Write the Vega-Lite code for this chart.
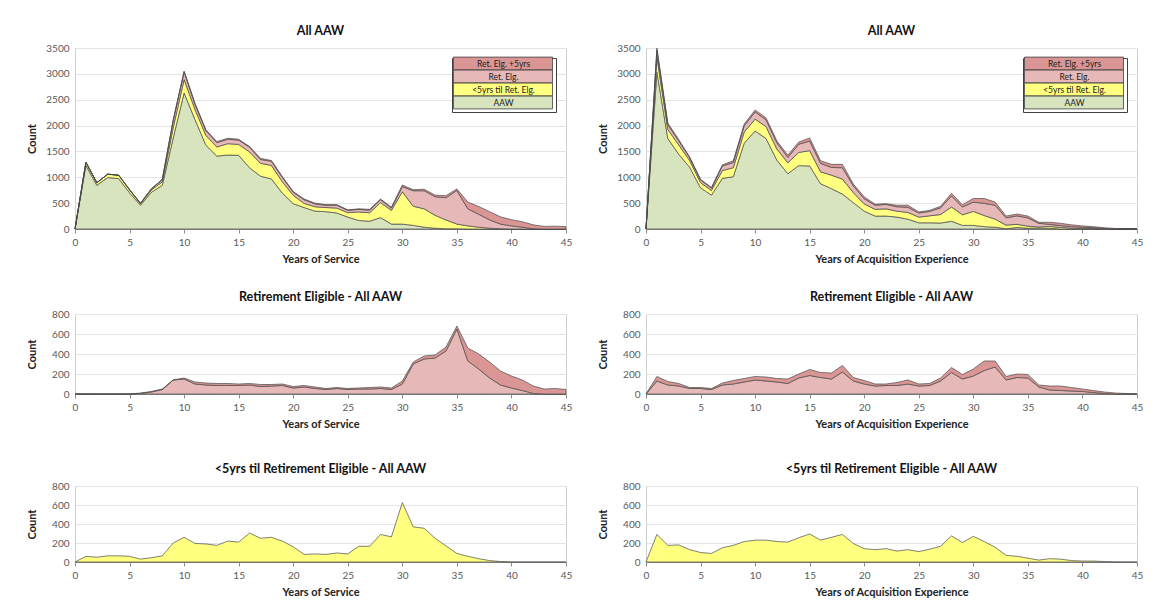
{
  "$schema": "https://vega.github.io/schema/vega-lite/v6.json",
  "background": "white",
  "padding": {"left": 25, "top": 24, "right": 8, "bottom": 2},
  "config": {
    "font": "Lato",
    "view": {"stroke": "#d0d0d0", "strokeWidth": 1},
    "title": {"fontSize": 12.5, "fontWeight": "bold", "color": "#111", "offset": 6},
    "axis": {
      "labelFontSize": 10, "labelColor": "#595959",
      "titleFontSize": 11, "titleFontWeight": "bold", "titleColor": "#222",
      "gridColor": "#e4e4e4", "domainColor": "#8c8c8c", "tickColor": "#8c8c8c"
    },
    "axisX": {"grid": false, "tickSize": 4, "labelFlush": false, "titlePadding": 6, "labelPadding": 4},
    "axisY": {"domain": false, "ticks": false, "labelPadding": 6, "minExtent": 34, "maxExtent": 34, "titlePadding": 4, "format": "d"},
    "legend": {
      "title": null, "orient": "top-right", "offset": 10,
      "symbolType": "M-1,-1.6H23.75V1.6H-1Z", "symbolSize": 64,
      "symbolStrokeColor": "#404040", "symbolStrokeWidth": 0.8, "symbolOpacity": 1,
      "labelOffset": 41.5, "labelAlign": "center", "labelFontSize": 8.5, "labelColor": "#222",
      "rowPadding": -4, "padding": 1, "strokeColor": "#404040", "fillColor": "white"
    }
  },
  "datasets": {
    "svc": [
      {"yr": 0, "aaw": 0, "lt5": 0, "ret": 0, "ret5": 0},
      {"yr": 1, "aaw": 1230, "lt5": 60, "ret": 0, "ret5": 0},
      {"yr": 2, "aaw": 845, "lt5": 50, "ret": 0, "ret5": 0},
      {"yr": 3, "aaw": 995, "lt5": 65, "ret": 0, "ret5": 0},
      {"yr": 4, "aaw": 975, "lt5": 65, "ret": 0, "ret5": 0},
      {"yr": 5, "aaw": 700, "lt5": 60, "ret": 0, "ret5": 0},
      {"yr": 6, "aaw": 460, "lt5": 30, "ret": 5, "ret5": 5},
      {"yr": 7, "aaw": 710, "lt5": 45, "ret": 20, "ret5": 5},
      {"yr": 8, "aaw": 845, "lt5": 65, "ret": 45, "ret5": 5},
      {"yr": 9, "aaw": 1760, "lt5": 200, "ret": 140, "ret5": 0},
      {"yr": 10, "aaw": 2630, "lt5": 260, "ret": 150, "ret5": 10},
      {"yr": 11, "aaw": 2115, "lt5": 195, "ret": 100, "ret5": 20},
      {"yr": 12, "aaw": 1620, "lt5": 190, "ret": 90, "ret5": 20},
      {"yr": 13, "aaw": 1410, "lt5": 175, "ret": 85, "ret5": 20},
      {"yr": 14, "aaw": 1430, "lt5": 220, "ret": 85, "ret5": 20},
      {"yr": 15, "aaw": 1425, "lt5": 210, "ret": 85, "ret5": 15},
      {"yr": 16, "aaw": 1185, "lt5": 305, "ret": 90, "ret5": 15},
      {"yr": 17, "aaw": 1020, "lt5": 250, "ret": 75, "ret5": 20},
      {"yr": 18, "aaw": 970, "lt5": 260, "ret": 80, "ret5": 15},
      {"yr": 19, "aaw": 695, "lt5": 220, "ret": 85, "ret5": 15},
      {"yr": 20, "aaw": 490, "lt5": 160, "ret": 60, "ret5": 15},
      {"yr": 21, "aaw": 415, "lt5": 80, "ret": 70, "ret5": 15},
      {"yr": 22, "aaw": 345, "lt5": 85, "ret": 55, "ret5": 15},
      {"yr": 23, "aaw": 335, "lt5": 80, "ret": 45, "ret5": 10},
      {"yr": 24, "aaw": 310, "lt5": 95, "ret": 55, "ret5": 10},
      {"yr": 25, "aaw": 230, "lt5": 85, "ret": 45, "ret5": 10},
      {"yr": 26, "aaw": 165, "lt5": 165, "ret": 50, "ret5": 10},
      {"yr": 27, "aaw": 150, "lt5": 165, "ret": 50, "ret5": 15},
      {"yr": 28, "aaw": 220, "lt5": 290, "ret": 55, "ret5": 15},
      {"yr": 29, "aaw": 95, "lt5": 265, "ret": 45, "ret5": 15},
      {"yr": 30, "aaw": 95, "lt5": 625, "ret": 100, "ret5": 30},
      {"yr": 31, "aaw": 70, "lt5": 370, "ret": 300, "ret5": 20},
      {"yr": 32, "aaw": 35, "lt5": 355, "ret": 350, "ret5": 30},
      {"yr": 33, "aaw": 15, "lt5": 250, "ret": 360, "ret5": 30},
      {"yr": 34, "aaw": 5, "lt5": 170, "ret": 430, "ret5": 40},
      {"yr": 35, "aaw": 5, "lt5": 90, "ret": 650, "ret5": 30},
      {"yr": 36, "aaw": 0, "lt5": 60, "ret": 330, "ret5": 130},
      {"yr": 37, "aaw": 0, "lt5": 35, "ret": 250, "ret5": 150},
      {"yr": 38, "aaw": 0, "lt5": 15, "ret": 160, "ret5": 160},
      {"yr": 39, "aaw": 0, "lt5": 5, "ret": 90, "ret5": 140},
      {"yr": 40, "aaw": 0, "lt5": 0, "ret": 60, "ret5": 120},
      {"yr": 41, "aaw": 0, "lt5": 0, "ret": 35, "ret5": 105},
      {"yr": 42, "aaw": 0, "lt5": 0, "ret": 5, "ret5": 75},
      {"yr": 43, "aaw": 0, "lt5": 0, "ret": 0, "ret5": 50},
      {"yr": 44, "aaw": 0, "lt5": 0, "ret": 0, "ret5": 55},
      {"yr": 45, "aaw": 0, "lt5": 0, "ret": 0, "ret5": 45}
    ],
    "acq": [
      {"yr": 0, "aaw": 0, "lt5": 0, "ret": 0, "ret5": 0},
      {"yr": 1, "aaw": 3035, "lt5": 290, "ret": 130, "ret5": 45},
      {"yr": 2, "aaw": 1750, "lt5": 175, "ret": 90, "ret5": 35},
      {"yr": 3, "aaw": 1445, "lt5": 180, "ret": 80, "ret5": 25},
      {"yr": 4, "aaw": 1195, "lt5": 130, "ret": 55, "ret5": 10},
      {"yr": 5, "aaw": 795, "lt5": 100, "ret": 55, "ret5": 10},
      {"yr": 6, "aaw": 655, "lt5": 90, "ret": 45, "ret5": 10},
      {"yr": 7, "aaw": 980, "lt5": 150, "ret": 90, "ret5": 20},
      {"yr": 8, "aaw": 1010, "lt5": 175, "ret": 100, "ret5": 35},
      {"yr": 9, "aaw": 1660, "lt5": 215, "ret": 120, "ret5": 35},
      {"yr": 10, "aaw": 1895, "lt5": 230, "ret": 140, "ret5": 35},
      {"yr": 11, "aaw": 1750, "lt5": 230, "ret": 130, "ret5": 40},
      {"yr": 12, "aaw": 1330, "lt5": 215, "ret": 120, "ret5": 35},
      {"yr": 13, "aaw": 1070, "lt5": 210, "ret": 105, "ret5": 45},
      {"yr": 14, "aaw": 1225, "lt5": 255, "ret": 160, "ret5": 40},
      {"yr": 15, "aaw": 1220, "lt5": 295, "ret": 185, "ret5": 60},
      {"yr": 16, "aaw": 875, "lt5": 230, "ret": 165, "ret5": 50},
      {"yr": 17, "aaw": 780, "lt5": 260, "ret": 150, "ret5": 60},
      {"yr": 18, "aaw": 675, "lt5": 290, "ret": 220, "ret5": 65},
      {"yr": 19, "aaw": 510, "lt5": 195, "ret": 130, "ret5": 35},
      {"yr": 20, "aaw": 345, "lt5": 140, "ret": 100, "ret5": 35},
      {"yr": 21, "aaw": 250, "lt5": 130, "ret": 80, "ret5": 20},
      {"yr": 22, "aaw": 250, "lt5": 140, "ret": 85, "ret5": 15},
      {"yr": 23, "aaw": 230, "lt5": 115, "ret": 85, "ret5": 30},
      {"yr": 24, "aaw": 190, "lt5": 130, "ret": 100, "ret5": 40},
      {"yr": 25, "aaw": 120, "lt5": 110, "ret": 80, "ret5": 20},
      {"yr": 26, "aaw": 120, "lt5": 135, "ret": 85, "ret5": 20},
      {"yr": 27, "aaw": 115, "lt5": 165, "ret": 130, "ret5": 30},
      {"yr": 28, "aaw": 150, "lt5": 275, "ret": 215, "ret5": 50},
      {"yr": 29, "aaw": 70, "lt5": 205, "ret": 150, "ret5": 45},
      {"yr": 30, "aaw": 70, "lt5": 270, "ret": 180, "ret5": 70},
      {"yr": 31, "aaw": 45, "lt5": 215, "ret": 235, "ret5": 95},
      {"yr": 32, "aaw": 35, "lt5": 155, "ret": 270, "ret5": 60},
      {"yr": 33, "aaw": 5, "lt5": 70, "ret": 140, "ret5": 35},
      {"yr": 34, "aaw": 30, "lt5": 60, "ret": 165, "ret5": 35},
      {"yr": 35, "aaw": 15, "lt5": 40, "ret": 160, "ret5": 35},
      {"yr": 36, "aaw": 20, "lt5": 20, "ret": 70, "ret5": 20},
      {"yr": 37, "aaw": 15, "lt5": 35, "ret": 40, "ret5": 40},
      {"yr": 38, "aaw": 0, "lt5": 30, "ret": 35, "ret5": 45},
      {"yr": 39, "aaw": 0, "lt5": 15, "ret": 30, "ret5": 35},
      {"yr": 40, "aaw": 0, "lt5": 10, "ret": 25, "ret5": 25},
      {"yr": 41, "aaw": 0, "lt5": 10, "ret": 15, "ret5": 20},
      {"yr": 42, "aaw": 0, "lt5": 5, "ret": 5, "ret5": 15},
      {"yr": 43, "aaw": 0, "lt5": 0, "ret": 0, "ret5": 10},
      {"yr": 44, "aaw": 0, "lt5": 0, "ret": 0, "ret5": 5},
      {"yr": 45, "aaw": 0, "lt5": 0, "ret": 0, "ret5": 0}
    ]
  },
  "resolve": {"scale": {"color": "independent"}, "legend": {"color": "independent"}},
  "spacing": 25,
  "vconcat": [
    {
      "spacing": 23,
      "resolve": {"scale": {"color": "independent"}, "legend": {"color": "independent"}},
      "hconcat": [
        {
          "title": "All AAW",
          "width": 491, "height": 181,
          "data": {"name": "svc"},
          "transform": [
            {"fold": ["aaw", "lt5", "ret", "ret5"], "as": ["grp", "n"]},
            {"calculate": "indexof(['aaw','lt5','ret','ret5'], datum.grp)", "as": "ord"}
          ],
          "mark": {"type": "area", "stroke": "#4a4a4a", "strokeWidth": 0.7},
          "encoding": {
            "x": {"field": "yr", "type": "quantitative", "scale": {"domain": [0, 45], "nice": false},
                  "axis": {"values": [0, 5, 10, 15, 20, 25, 30, 35, 40, 45], "title": "Years of Service"}},
            "y": {"field": "n", "type": "quantitative", "stack": "zero", "scale": {"domain": [0, 3500], "nice": false},
                  "axis": {"values": [0, 500, 1000, 1500, 2000, 2500, 3000, 3500], "title": "Count"}},
            "color": {"field": "grp", "type": "nominal",
                      "scale": {"domain": ["ret5", "ret", "lt5", "aaw"], "range": ["#D99694", "#E6B9B8", "#FFFF80", "#D7E4BD"]},
                      "legend": {"rowPadding": -4, "labelExpr": "{'aaw':'AAW','lt5':'<5yrs til Ret. Elg.','ret':'Ret. Elg.','ret5':'Ret. Elg. +5yrs'}[datum.label]"}},
            "order": {"field": "ord", "type": "quantitative"}
          }
        },
        {
          "title": "All AAW",
          "width": 491, "height": 181,
          "data": {"name": "acq"},
          "transform": [
            {"fold": ["aaw", "lt5", "ret", "ret5"], "as": ["grp", "n"]},
            {"calculate": "indexof(['aaw','lt5','ret','ret5'], datum.grp)", "as": "ord"}
          ],
          "mark": {"type": "area", "stroke": "#4a4a4a", "strokeWidth": 0.7},
          "encoding": {
            "x": {"field": "yr", "type": "quantitative", "scale": {"domain": [0, 45], "nice": false},
                  "axis": {"values": [0, 5, 10, 15, 20, 25, 30, 35, 40, 45], "title": "Years of Acquisition Experience"}},
            "y": {"field": "n", "type": "quantitative", "stack": "zero", "scale": {"domain": [0, 3500], "nice": false},
                  "axis": {"values": [0, 500, 1000, 1500, 2000, 2500, 3000, 3500], "title": "Count"}},
            "color": {"field": "grp", "type": "nominal",
                      "scale": {"domain": ["ret5", "ret", "lt5", "aaw"], "range": ["#D99694", "#E6B9B8", "#FFFF80", "#D7E4BD"]},
                      "legend": {"rowPadding": -4, "labelExpr": "{'aaw':'AAW','lt5':'<5yrs til Ret. Elg.','ret':'Ret. Elg.','ret5':'Ret. Elg. +5yrs'}[datum.label]"}},
            "order": {"field": "ord", "type": "quantitative"}
          }
        }
      ]
    },
    {
      "spacing": 32,
      "vconcat": [
        {
          "spacing": 23,
          "resolve": {"scale": {"color": "independent"}, "legend": {"color": "independent"}},
          "hconcat": [
            {
              "title": "Retirement Eligible - All AAW",
              "width": 491, "height": 80,
              "data": {"name": "svc"},
              "transform": [
                {"fold": ["ret", "ret5"], "as": ["grp", "n"]},
                {"calculate": "indexof(['ret','ret5'], datum.grp)", "as": "ord"}
              ],
              "mark": {"type": "area", "stroke": "#4a4a4a", "strokeWidth": 0.7},
              "encoding": {
                "x": {"field": "yr", "type": "quantitative", "scale": {"domain": [0, 45], "nice": false},
                      "axis": {"values": [0, 5, 10, 15, 20, 25, 30, 35, 40, 45], "title": "Years of Service"}},
                "y": {"field": "n", "type": "quantitative", "stack": "zero", "scale": {"domain": [0, 800], "nice": false},
                      "axis": {"values": [0, 200, 400, 600, 800], "title": "Count"}},
                "color": {"field": "grp", "type": "nominal",
                          "scale": {"domain": ["ret5", "ret"], "range": ["#D99694", "#E6B9B8"]}, "legend": null},
                "order": {"field": "ord", "type": "quantitative"}
              }
            },
            {
              "title": "Retirement Eligible - All AAW",
              "width": 491, "height": 80,
              "data": {"name": "acq"},
              "transform": [
                {"fold": ["ret", "ret5"], "as": ["grp", "n"]},
                {"calculate": "indexof(['ret','ret5'], datum.grp)", "as": "ord"}
              ],
              "mark": {"type": "area", "stroke": "#4a4a4a", "strokeWidth": 0.7},
              "encoding": {
                "x": {"field": "yr", "type": "quantitative", "scale": {"domain": [0, 45], "nice": false},
                      "axis": {"values": [0, 5, 10, 15, 20, 25, 30, 35, 40, 45], "title": "Years of Acquisition Experience"}},
                "y": {"field": "n", "type": "quantitative", "stack": "zero", "scale": {"domain": [0, 800], "nice": false},
                      "axis": {"values": [0, 200, 400, 600, 800], "title": "Count"}},
                "color": {"field": "grp", "type": "nominal",
                          "scale": {"domain": ["ret5", "ret"], "range": ["#D99694", "#E6B9B8"]}, "legend": null},
                "order": {"field": "ord", "type": "quantitative"}
              }
            }
          ]
        },
        {
          "spacing": 23,
          "hconcat": [
            {
              "title": "<5yrs til Retirement Eligible - All AAW",
              "width": 491, "height": 76,
              "data": {"name": "svc"},
              "mark": {"type": "area", "fill": "#FFFF80", "stroke": "#4a4a4a", "strokeWidth": 0.7},
              "encoding": {
                "x": {"field": "yr", "type": "quantitative", "scale": {"domain": [0, 45], "nice": false},
                      "axis": {"values": [0, 5, 10, 15, 20, 25, 30, 35, 40, 45], "title": "Years of Service"}},
                "y": {"field": "lt5", "type": "quantitative", "scale": {"domain": [0, 800], "nice": false},
                      "axis": {"values": [0, 200, 400, 600, 800], "title": "Count"}}
              }
            },
            {
              "title": "<5yrs til Retirement Eligible - All AAW",
              "width": 491, "height": 76,
              "data": {"name": "acq"},
              "mark": {"type": "area", "fill": "#FFFF80", "stroke": "#4a4a4a", "strokeWidth": 0.7},
              "encoding": {
                "x": {"field": "yr", "type": "quantitative", "scale": {"domain": [0, 45], "nice": false},
                      "axis": {"values": [0, 5, 10, 15, 20, 25, 30, 35, 40, 45], "title": "Years of Acquisition Experience"}},
                "y": {"field": "lt5", "type": "quantitative", "scale": {"domain": [0, 800], "nice": false},
                      "axis": {"values": [0, 200, 400, 600, 800], "title": "Count"}}
              }
            }
          ]
        }
      ]
    }
  ]
}
